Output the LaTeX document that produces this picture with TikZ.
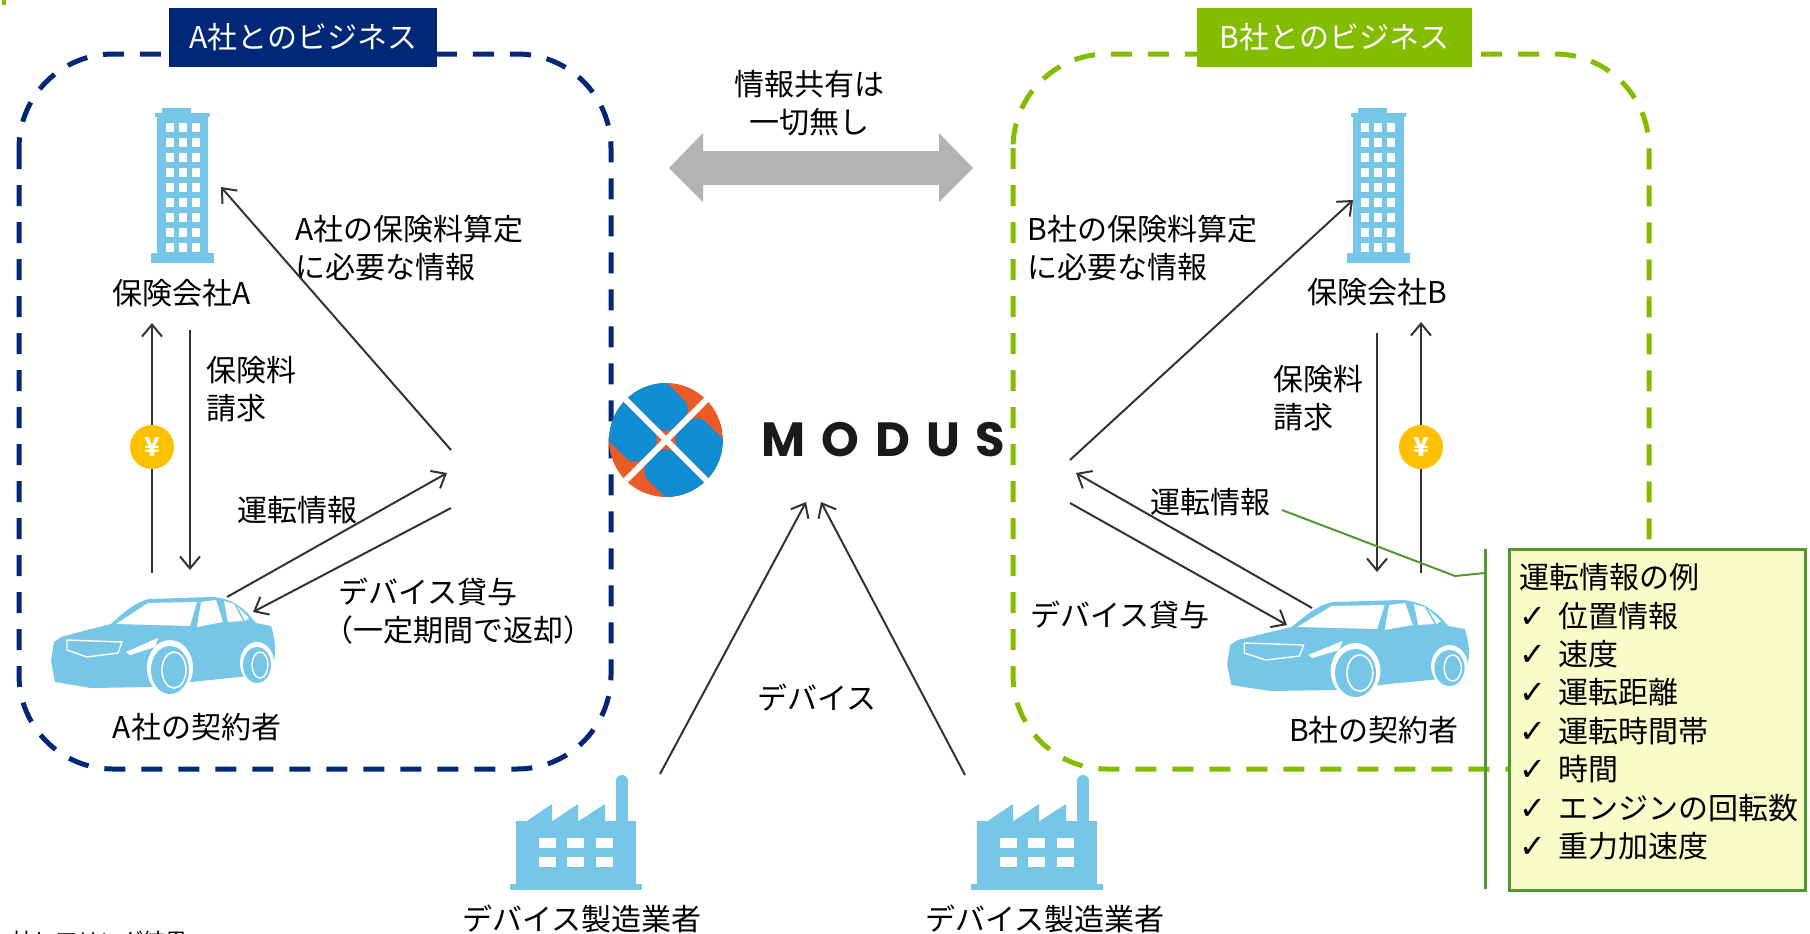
\documentclass[tikz,border=0pt]{standalone}
\usepackage{fontspec}
\usepackage{xcolor}
\usepackage{tikz}
\setmainfont{Noto Sans CJK JP}
\newfontfamily\checkfont{DejaVu Sans}
\newfontfamily\modusfont{Poppins}
\usetikzlibrary{arrows.meta,positioning,calc}

\definecolor{navyA}{RGB}{0,40,118}
\definecolor{greenB}{RGB}{132,189,0}
\definecolor{iconblue}{RGB}{117,198,231}
\definecolor{coin}{RGB}{255,192,0}
\definecolor{sharegray}{RGB}{179,179,179}
\definecolor{linegray}{RGB}{51,51,51}
\definecolor{notegreen}{RGB}{78,154,46}
\definecolor{notefill}{RGB}{249,252,200}
\definecolor{modusblue}{RGB}{16,140,210}
\definecolor{modusorange}{RGB}{236,90,40}
\definecolor{modusgray}{RGB}{26,26,26}

% icons, local units are pixels with y pointing down
\tikzset{
  tower/.pic={
    \fill[iconblue] (-20.5,0) rectangle (8.5,5);
    \fill[iconblue] (-27.5,5) rectangle (27.5,9);
    \fill[iconblue] (-25.5,9) rectangle (25.5,145);
    \fill[iconblue] (-31.5,145) rectangle (31.5,155);
    \foreach \c in {-17,-4,9}
      \foreach \r in {0,...,8}
        \fill[white] (\c,15+15*\r) rectangle ++(8,9);
  },
  factory/.pic={
    \fill[iconblue] (0,109) rectangle (132,115);
    \fill[iconblue] (6,46) rectangle (126,109);
    \fill[iconblue] (16,46.5) -- (42,29) -- (42,46.5) -- (68,29) -- (68,46.5) -- (95,29) -- (95,46.5) -- cycle;
    \fill[iconblue] (106,6) rectangle (118,48);
    \fill[iconblue] (112,6) circle [radius=6];
    \foreach \c in {29,57,86}
      \foreach \r in {63,82}
        \fill[white] (\c,\r) rectangle ++(17,10);
  },
  car/.pic={
    % body
    \fill[iconblue] (0,66) -- (3,47) -- (10,42) -- (40,34) -- (60,29)
      .. controls (72,18) and (84,7) .. (98,4) -- (160,2)
      .. controls (176,2) and (190,10) .. (200,22) -- (205,28) -- (220,31)
      .. controls (225,45) and (225,60) .. (222,70) -- (216,79)
      -- (150,86) -- (100,92) -- (40,93) -- (4,87) -- cycle;
    % windows
    \fill[white] (65,29) -- (97,8) -- (146,7) -- (139,31) -- cycle;
    \fill[white] (150,7) -- (165,5) -- (172,27) -- (146,32) -- cycle;
    \fill[white] (173,6) -- (183,9) -- (192,26) -- (177,27) -- cycle;
    \fill[white] (186,11) -- (198,23) -- (194,26) -- cycle;
    % grille and headlight
    \draw[white, line width=0.7pt] (16,45) -- (71,47) -- (67,58) -- (36,62) -- (16,55) -- cycle;
    \fill[white] (75,57) -- (107,43) -- (104,52) -- (79,60) -- cycle;
    % wheels
    \fill[white] (119,73) ellipse [x radius=23, y radius=28];
    \fill[iconblue] (119,75) ellipse [x radius=19, y radius=24];
    \draw[white, line width=0.8pt] (123,75) ellipse [x radius=12, y radius=18];
    \fill[white] (206,68) ellipse [x radius=17, y radius=21];
    \fill[iconblue] (206,70) ellipse [x radius=14, y radius=18];
    \draw[white, line width=0.7pt] (209,70) ellipse [x radius=8, y radius=13];
  }
}

\begin{document}
\begin{tikzpicture}[x=0.5pt, y=-0.5pt, font=\fontsize{15}{19}\selectfont,
    arr/.style={draw=linegray, line width=1pt, -{Straight Barb[length=6pt,width=10pt]}},
    lbl/.style={inner sep=0pt, align=left},
    boxtitle/.style={inner sep=0pt, text=white, minimum height=29.5pt},
    yencoin/.style={circle, fill=coin, text=white, inner sep=0pt, minimum size=22pt,
      font=\fontsize{13}{13}\selectfont\bfseries},
    bizA/.style={draw=navyA, line width=2.5pt, dash pattern=on 10.5pt off 8pt, rounded corners=47pt},
    bizB/.style={bizA, draw=greenB}]

\useasboundingbox (0,0) rectangle (1810,933);
\fill[greenB] (2,0) rectangle (6,5);

% business frames
\draw[bizA] (19,54) rectangle (611,769);
\draw[bizB] (1013,54) rectangle (1649,769);
\node[boxtitle, fill=navyA, minimum width=134pt] (titleA) at (303,37.5) {A社とのビジネス};
\node[boxtitle, fill=greenB, minimum width=137.5pt] (titleB) at (1334.5,37.5) {B社とのビジネス};

% no data shared between the two
\node[lbl, align=center] (noShare) at (809,103) {情報共有は\\一切無し};
\fill[sharegray] (669,168) -- (703,133) -- (703,151) -- (939,151) -- (939,133) -- (973,168)
  -- (939,202) -- (939,185) -- (703,185) -- (703,202) -- cycle;

% icons
\pic (towerA) at (182.5,108) {tower};
\pic (towerB) at (1378,108) {tower};
\pic (carA) at (51,595) {car};
\pic[xscale=1.08] (carB) at (1227,598) {car};
\pic (factL) at (510,775) {factory};
\pic (factR) at (971,775) {factory};

% MODUS logo
\begin{scope}[shift={(666,440)}]
  \clip (0,0) circle [radius=57];
  \fill[modusorange] (0,0) circle [radius=57];
  \begin{scope}[rotate=-45]
    \fill[modusblue, rounded corners=6pt] (3,3) rectangle (70,41);
    \fill[modusblue, rounded corners=6pt] (3,-3) rectangle (70,-41);
    \fill[modusblue, rounded corners=6pt] (-3,3) rectangle (-70,41);
    \fill[modusblue, rounded corners=6pt] (-3,-3) rectangle (-70,-41);
    \fill[white] (-60,-3) rectangle (60,3);
    \fill[white] (-3,-60) rectangle (3,60);
  \end{scope}
\end{scope}
\node[inner sep=0pt, text=modusgray, font=\modusfont\fontsize{24}{24}\selectfont\bfseries]
  (modus) at (883.5,440) {M\kern8pt O\kern8pt D\kern8pt U\kern8pt S};

% labels
\node[lbl] (insA) at (182,293) {保険会社A};
\node[lbl] (insB) at (1377,292) {保険会社B};
\node[lbl, anchor=west] (feeA) at (206,389) {保険料\\請求};
\node[lbl, anchor=west] (feeB) at (1273,398) {保険料\\請求};
\node[lbl, anchor=west] (calcA) at (295,248) {A社の保険料算定\\に必要な情報};
\node[lbl, anchor=west] (calcB) at (1027,248) {B社の保険料算定\\に必要な情報};
\node[lbl, anchor=west] (drvA) at (237,510) {運転情報};
\node[lbl, anchor=west] (drvB) at (1150,502) {運転情報};
\node[lbl, anchor=west] (lendA) at (338,611) {デバイス貸与\\{\kern-0.5em}（一定期間で返却）};
\node[lbl, anchor=west] (lendB) at (1030,615) {デバイス貸与};
\node[lbl] (custA) at (197,727) {A社の契約者};
\node[lbl] (custB) at (1374,730) {B社の契約者};
\node[lbl] (dev) at (817,698) {デバイス};
\node[lbl] (makerL) at (582,919) {デバイス製造業者};
\node[lbl] (makerR) at (1045,919) {デバイス製造業者};
\node[lbl, anchor=west, font=\fontsize{11}{13}\selectfont] (src) at (11,941) {社ヒアリング結果};

% A side flows
\coordinate (hubA) at (451,450);
\coordinate (towerAin) at (221,187);
\coordinate (carAout) at (227,597);
\coordinate (hubAin) at (447,473);
\coordinate (hubAout) at (451,508);
\coordinate (carAin) at (253,612);
\draw[arr] (hubA) -- (towerAin);
\draw[arr] (carAout) -- (hubAin);
\draw[arr] (hubAout) -- (carAin);
\coordinate (payA0) at (152,573);
\coordinate (payA1) at (152,323);
\coordinate (billA0) at (190,330);
\coordinate (billA1) at (190,570);
\draw[arr] (payA0) -- (payA1);
\draw[arr] (billA0) -- (billA1);
\node[yencoin] (yenA) at (152,447) {¥};

% B side flows
\coordinate (hubB) at (1070,460);
\coordinate (towerBin) at (1353,200);
\coordinate (carBout) at (1312,608);
\coordinate (hubBin) at (1076,473);
\coordinate (hubBout) at (1070,503);
\coordinate (carBin) at (1287,625);
\draw[arr] (hubB) -- (towerBin);
\draw[arr] (carBout) -- (hubBin);
\draw[arr] (hubBout) -- (carBin);
\coordinate (billB0) at (1377,333);
\coordinate (billB1) at (1377,572);
\coordinate (payB0) at (1421,573);
\coordinate (payB1) at (1421,322);
\draw[arr] (billB0) -- (billB1);
\draw[arr] (payB0) -- (payB1);
\node[yencoin] (yenB) at (1421,447) {¥};

% devices go to MODUS
\coordinate (factLout) at (660,774);
\coordinate (factRout) at (965,775);
\coordinate (modusInL) at (806,502);
\coordinate (modusInR) at (821,502);
\draw[arr] (factLout) -- (modusInL);
\draw[arr] (factRout) -- (modusInR);

% example list of driving data
\coordinate (leadS) at (1282,510);
\coordinate (leadK) at (1455,576);
\coordinate (leadE) at (1485,573);
\coordinate (brTop) at (1485,549);
\coordinate (brBot) at (1485,889);
\draw[notegreen, line width=1pt] (leadS) -- (leadK) -- (leadE);
\draw[notegreen, line width=1.5pt] (brTop) -- (brBot);
\draw[notegreen, fill=notefill, line width=1.5pt] (1509,549) rectangle (1805,890);
\node[lbl, anchor=north west, font=\fontsize{15}{19.2}\selectfont] (noteText) at (1519,563)
  {運転情報の例\\
   {\checkfont\fontsize{16}{19.2}\selectfont ✓}\kern6pt 位置情報\\
   {\checkfont\fontsize{16}{19.2}\selectfont ✓}\kern6pt 速度\\
   {\checkfont\fontsize{16}{19.2}\selectfont ✓}\kern6pt 運転距離\\
   {\checkfont\fontsize{16}{19.2}\selectfont ✓}\kern6pt 運転時間帯\\
   {\checkfont\fontsize{16}{19.2}\selectfont ✓}\kern6pt 時間\\
   {\checkfont\fontsize{16}{19.2}\selectfont ✓}\kern6pt エンジンの回転数\\
   {\checkfont\fontsize{16}{19.2}\selectfont ✓}\kern6pt 重力加速度};

\end{tikzpicture}
\end{document}
